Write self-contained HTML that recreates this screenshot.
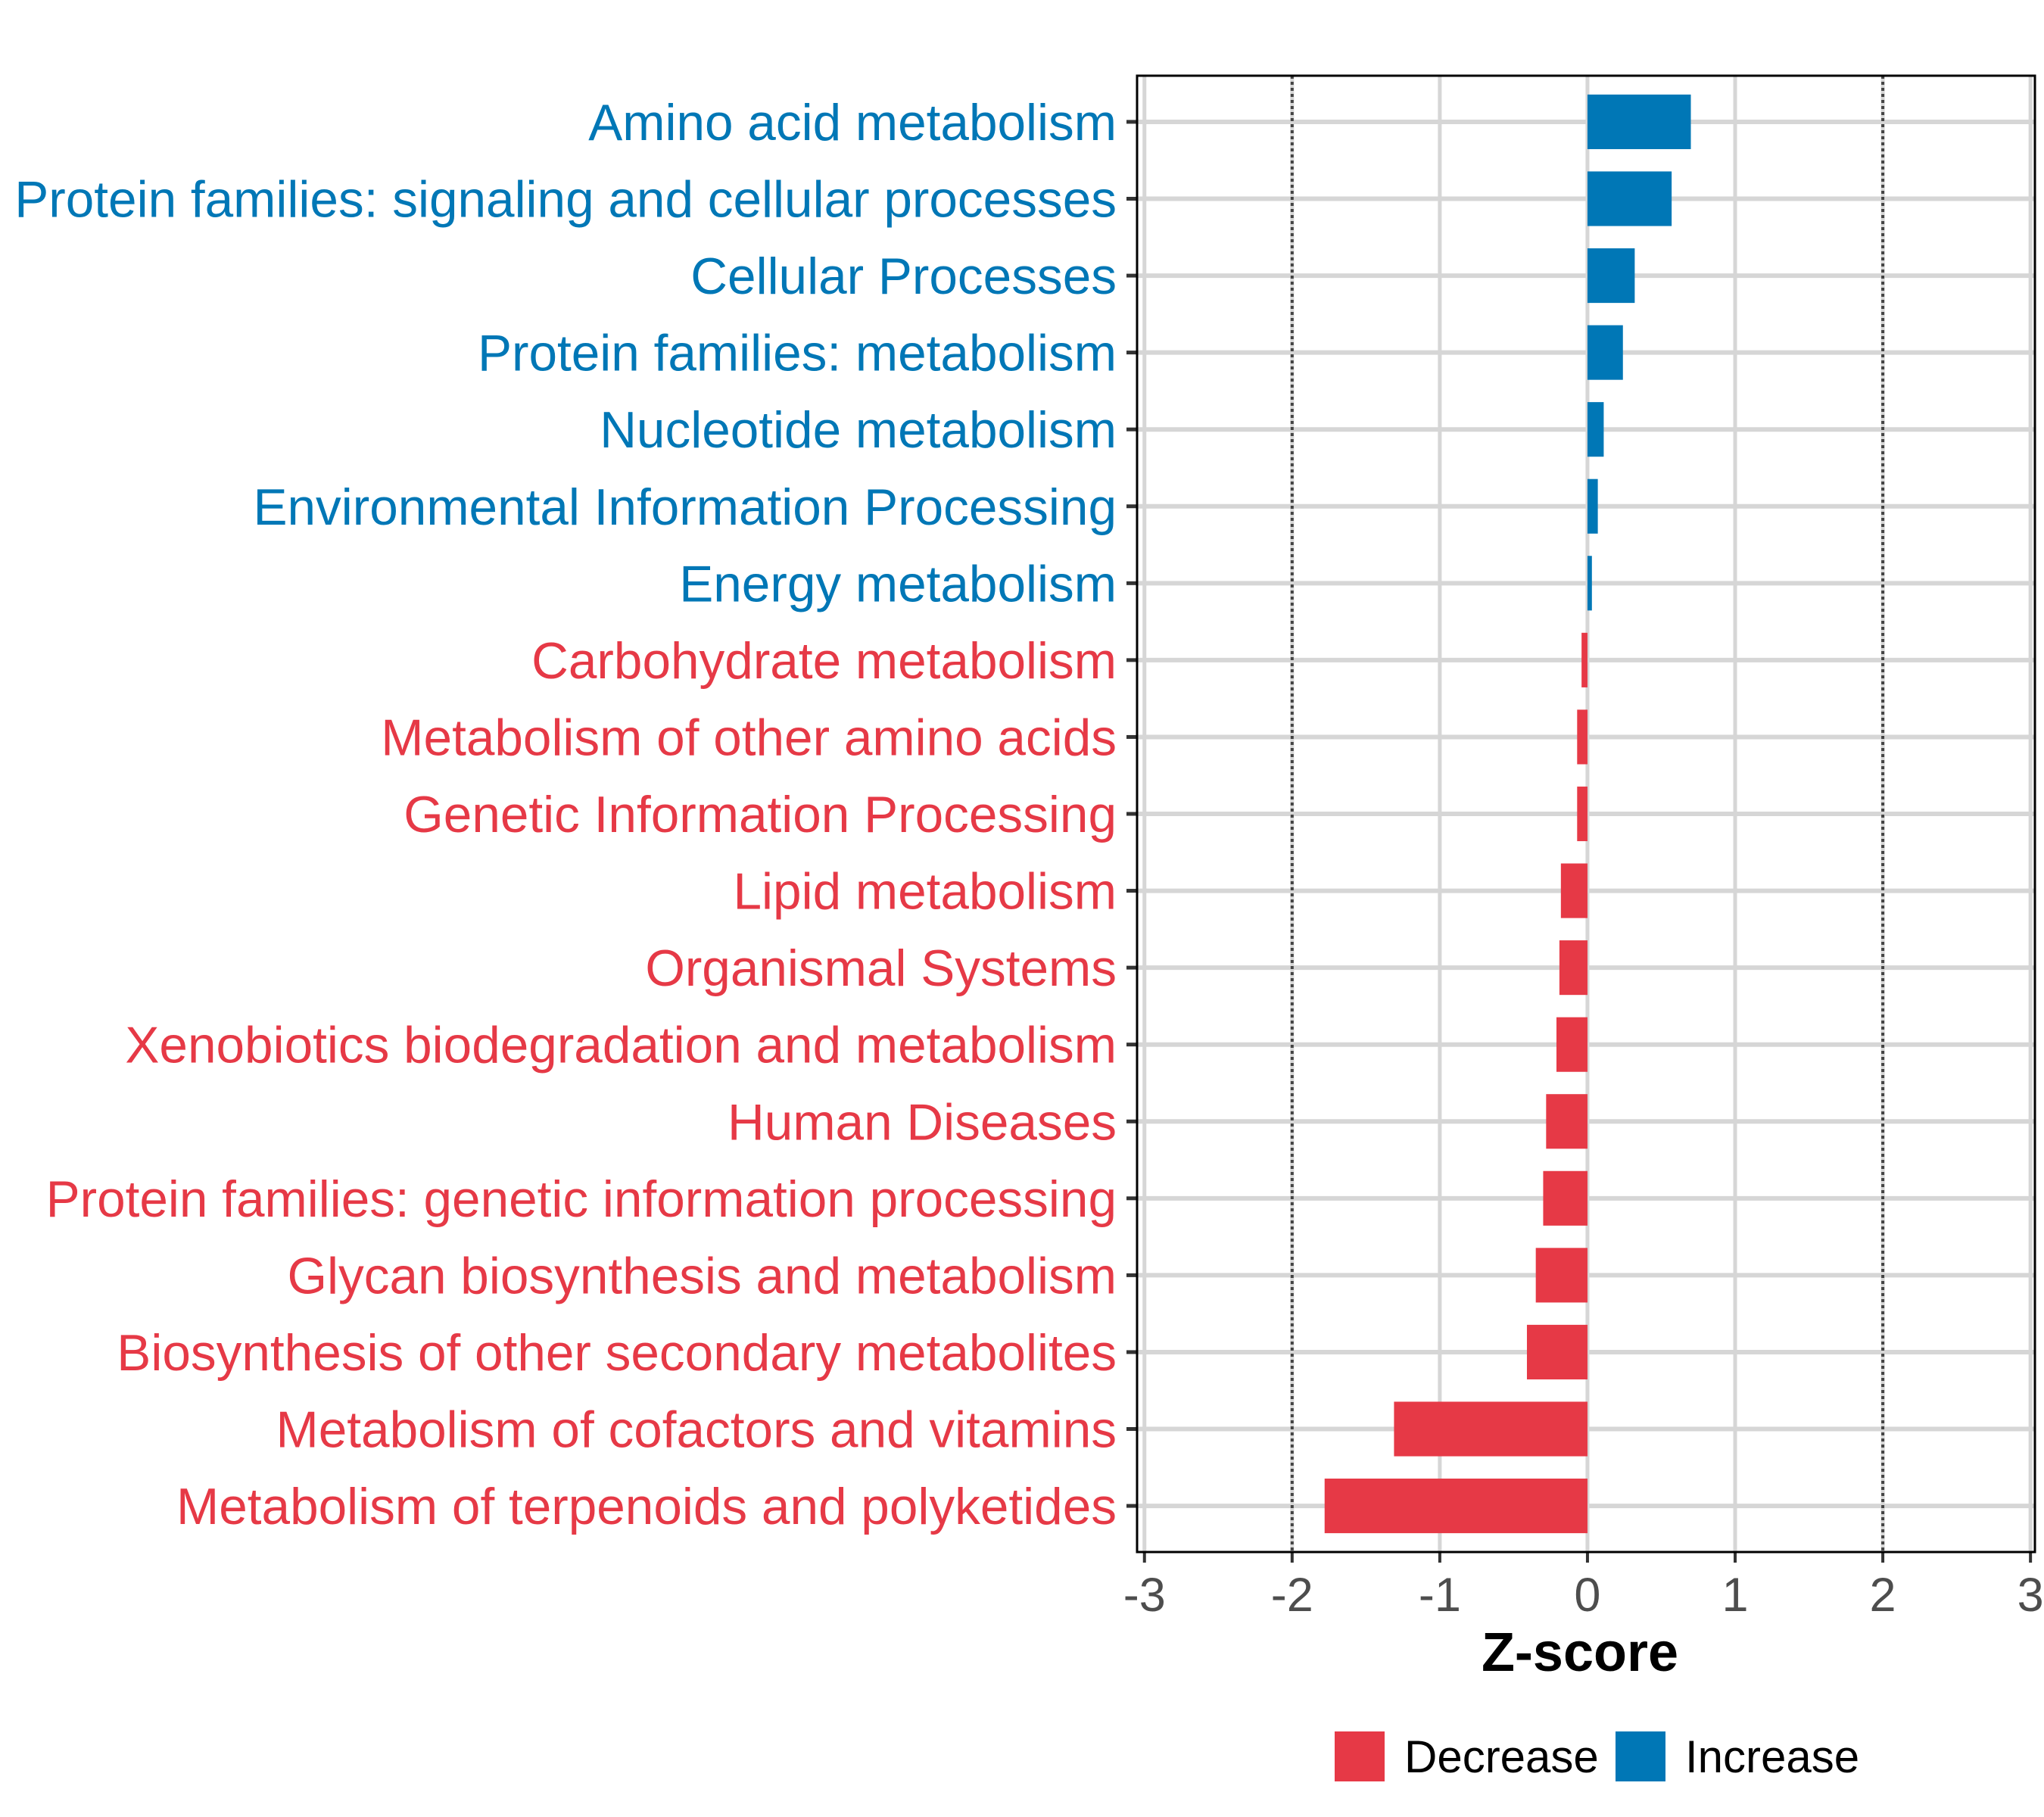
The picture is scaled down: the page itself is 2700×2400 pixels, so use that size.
<!DOCTYPE html>
<html><head><meta charset="utf-8"><style>
html,body{margin:0;padding:0;background:#fff;}
svg{display:block;font-family:"Liberation Sans",Arial,sans-serif;}
</style></head><body>
<svg id="chart" width="2700" height="2400" viewBox="0 0 2700 2400" xmlns="http://www.w3.org/2000/svg">
<rect x="0" y="0" width="2700" height="2400" fill="#fff"/>
<g id="grid"></g>
<g id="bars"></g>
<g id="ylabels"></g>
<g id="xaxis"></g>
<text x="2087" y="2207" text-anchor="middle" font-size="72" font-weight="bold" fill="#000">Z-score</text>
<g>
  <rect x="1763" y="2287" width="66" height="66" fill="#E63946"/>
  <text x="1855" y="2341" font-size="60" fill="#000">Decrease</text>
  <rect x="2134" y="2287" width="66" height="66" fill="#0077B6"/>
  <text x="2226" y="2341" font-size="60" fill="#000">Increase</text>
</g>
</svg>
<script>
const categories = ["Amino acid metabolism","Protein families: signaling and cellular processes","Cellular Processes","Protein families: metabolism","Nucleotide metabolism","Environmental Information Processing","Energy metabolism","Carbohydrate metabolism","Metabolism of other amino acids","Genetic Information Processing","Lipid metabolism","Organismal Systems","Xenobiotics biodegradation and metabolism","Human Diseases","Protein families: genetic information processing","Glycan biosynthesis and metabolism","Biosynthesis of other secondary metabolites","Metabolism of cofactors and vitamins","Metabolism of terpenoids and polyketides"];
const zscores = [0.70,0.57,0.32,0.24,0.11,0.07,0.03,-0.04,-0.07,-0.07,-0.18,-0.19,-0.21,-0.28,-0.30,-0.35,-0.41,-1.31,-1.78];
const xTicks = [-3,-2,-1,0,1,2,3];
const xTickLabels = ["-3","-2","-1","0","1","2","3"];
const refLines = [-2,2];

const NS="http://www.w3.org/2000/svg";
const P={l:1502,r:2688,t:100,b:2050};
const xMin=-3.05,xMax=3.03;
function xs(v){return P.l+(v-xMin)/(xMax-xMin)*(P.r-P.l);}
const step=(P.b-P.t)/(categories.length-1+1.2);
function ys(i){return P.t+0.6*step+i*step;}
function mk(tag,attrs,parent){const e=document.createElementNS(NS,tag);for(const k in attrs)e.setAttribute(k,attrs[k]);parent.appendChild(e);return e;}
const grid=document.getElementById('grid'),bars=document.getElementById('bars'),yl=document.getElementById('ylabels'),xa=document.getElementById('xaxis');
xTicks.forEach((t,i)=>{
  const g=mk('line',{x1:xs(t),x2:xs(t),y1:P.t,y2:P.b,stroke:'#d6d6d6','stroke-width':5},grid);
  
  
  const tk=mk('line',{x1:xs(t),x2:xs(t),y1:P.b,y2:P.b+14,stroke:'#333','stroke-width':4},xa);
  
  
  const tl=mk('text',{x:xs(t),y:P.b+78,'text-anchor':'middle','font-size':63,fill:'#4d4d4d'},xa);
  tl.textContent=xTickLabels[i];
  
  
});
categories.forEach((c,i)=>{
  const g=mk('line',{x1:P.l,x2:P.r,y1:ys(i),y2:ys(i),stroke:'#d6d6d6','stroke-width':6},grid);
  
  
});
refLines.forEach(v=>{
  const l=mk('line',{x1:xs(v),x2:xs(v),y1:P.t,y2:P.b,stroke:'#444','stroke-width':4,'stroke-dasharray':'4 4'},grid);
  
  
});
const bh=step*0.71;
categories.forEach((c,i)=>{
  const v=zscores[i];
  const col=v>=0?'#0077B6':'#E63946';
  const x0=Math.min(xs(0),xs(v)),w=Math.abs(xs(v)-xs(0));
  const r=mk('rect',{x:x0,y:ys(i)-bh/2,width:w,height:bh,fill:col},bars);
  
  
  const t=mk('text',{x:1475,y:ys(i)+24,'text-anchor':'end','font-size':67.5,fill:col},yl);
  t.textContent=c;
  
  
  const tk=mk('line',{x1:P.l-14,x2:P.l,y1:ys(i),y2:ys(i),stroke:'#333','stroke-width':5},yl);
  
  
});
const fr=mk('rect',{x:P.l,y:P.t,width:P.r-P.l,height:P.b-P.t,fill:'none',stroke:'#000','stroke-width':3},document.getElementById('chart'));


</script>
</body></html>
